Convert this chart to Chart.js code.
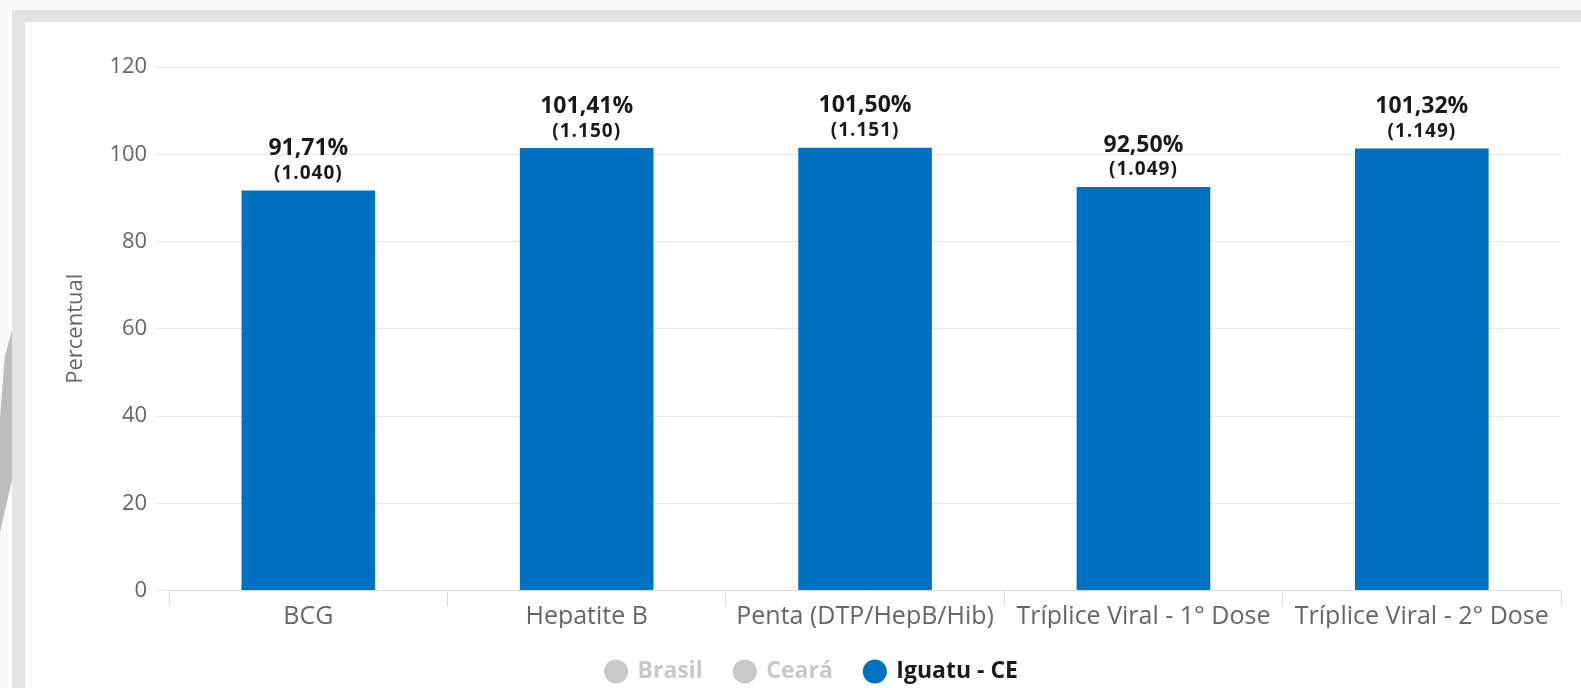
<!DOCTYPE html>
<html>
<head>
<meta charset="utf-8">
<script src="https://cdn.jsdelivr.net/npm/chart.js@4.4.1/dist/chart.umd.min.js"></script>
<style>
  html, body { margin: 0; padding: 0; background: #fafafa; width: 1581px; height: 688px; overflow: hidden; }
  #frame { position: absolute; left: 12px; top: 10px; width: 1600px; height: 700px; background: #e3e3e3; }
  #panel { position: absolute; left: 25px; top: 22px; width: 1556px; height: 666px; background: #fff; }
  #sliver { position: absolute; left: 0; top: 330px; width: 12px; height: 220px; background: #bdbdbd;
            clip-path: polygon(40% 12%, 100% 0%, 100% 68%, 0% 92%, 0% 40%); }
</style>
</head>
<body>
<div id="sliver"></div>
<div id="frame"></div>
<div id="panel"><canvas id="chart"></canvas></div>
<script>
const categories = ['BCG', 'Hepatite B', 'Penta (DTP/HepB/Hib)', 'Tríplice Viral - 1° Dose', 'Tríplice Viral - 2° Dose']
const seriesNames = ['Brasil', 'Ceará', 'Iguatu - CE']
// only the Iguatu series is shown; Brasil and Ceará are switched off in the legend
const iguatuPercent = [91.71, 101.41, 101.50, 92.50, 101.32]
const iguatuDoses = [1040, 1150, 1151, 1049, 1149]
const yMin = 0
const yMax = 120
const yStep = 20

const BLUE = '#0070c0'
const OFF_GREY = '#c9c9c9'
const FONT = "'Open Sans'"
const LEGEND_HEIGHT = 60

function fmtPercent(v) {
    return v.toFixed(2).replace('.', ',')
}

function fmtThousands(n) {
    return String(n).replace(/\B(?=(\d{3})+(?!\d))/g, '.')
}

// draws "91,71%" and "(1.040)" above each bar
const barLabels = {
    id: 'barLabels',
    afterDatasetsDraw(chart) {
        let ctx = chart.ctx
        chart.data.datasets.forEach((ds, di) => {
            let meta = chart.getDatasetMeta(di)
            if (meta.hidden || ds.hidden) return
            meta.data.forEach((bar, i) => {
                ctx.save()
                ctx.textAlign = 'center'
                ctx.textBaseline = 'middle'
                ctx.fillStyle = '#1a1a1a'
                ctx.font = 'bold 23px ' + FONT
                ctx.fillText(fmtPercent(ds.data[i]) + '%', bar.x, bar.y - 42)
                ctx.font = 'bold 19px ' + FONT
                ctx.letterSpacing = '1px'
                ctx.fillText('(' + fmtThousands(ds.doses[i]) + ')', bar.x, bar.y - 17)
                ctx.restore()
            })
        })
    }
}

// the legend sits tight under the axis labels, so trim its reserved height
const legendHeight = {
    id: 'legendHeight',
    beforeLayout(chart) {
        let legend = chart.legend
        if (!legend || legend._trimmed) return
        let fit = legend.fit
        legend.fit = function () {
            fit.call(this)
            this.height = LEGEND_HEIGHT
        }
        legend._trimmed = true
    }
}

new Chart(document.getElementById('chart'), {
    type: 'bar',
    data: {
        labels: categories,
        datasets: [
            { label: seriesNames[0], data: [], hidden: true, backgroundColor: OFF_GREY },
            { label: seriesNames[1], data: [], hidden: true, backgroundColor: OFF_GREY },
            { label: seriesNames[2], data: iguatuPercent, doses: iguatuDoses, backgroundColor: BLUE,
              categoryPercentage: 1, barPercentage: 0.48 }
        ]
    },
    options: {
        responsive: true,
        maintainAspectRatio: false,
        animation: false,
        layout: { padding: { top: 45, right: 20, left: 38, bottom: 0 } },
        scales: {
            x: {
                grid: { offset: true, drawOnChartArea: false, tickLength: 15, color: '#dcdcdc' },
                border: { color: '#dcdcdc' },
                ticks: { color: '#666', font: { family: FONT, size: 25, lineHeight: 0.9 }, padding: 0, maxRotation: 0 }
            },
            y: {
                min: yMin,
                max: yMax,
                grid: { color: '#e8e8e8', tickLength: 13 },
                border: { display: false },
                ticks: { stepSize: yStep, color: '#666', font: { family: FONT, size: 22 }, padding: 9 },
                title: { display: true, text: 'Percentual', color: '#666', font: { family: FONT, size: 22 }, padding: { top: 0, bottom: 11 } }
            }
        },
        plugins: {
            legend: {
                position: 'bottom',
                labels: {
                    usePointStyle: true,
                    pointStyle: 'circle',
                    boxWidth: 20,
                    boxHeight: 17,
                    padding: 32,
                    font: { family: FONT, size: 23, weight: 'bold' },
                    generateLabels(chart) {
                        return chart.data.datasets.map((ds, i) => ({
                            text: ds.label,
                            fillStyle: ds.hidden ? OFF_GREY : ds.backgroundColor,
                            strokeStyle: ds.hidden ? OFF_GREY : ds.backgroundColor,
                            lineWidth: 0,
                            pointStyle: 'circle',
                            fontColor: ds.hidden ? OFF_GREY : '#1a1a1a',
                            hidden: false,
                            datasetIndex: i
                        }))
                    }
                },
                onClick() {}
            },
            tooltip: { enabled: false }
        }
    },
    plugins: [barLabels, legendHeight]
})
</script>
</body>
</html>
